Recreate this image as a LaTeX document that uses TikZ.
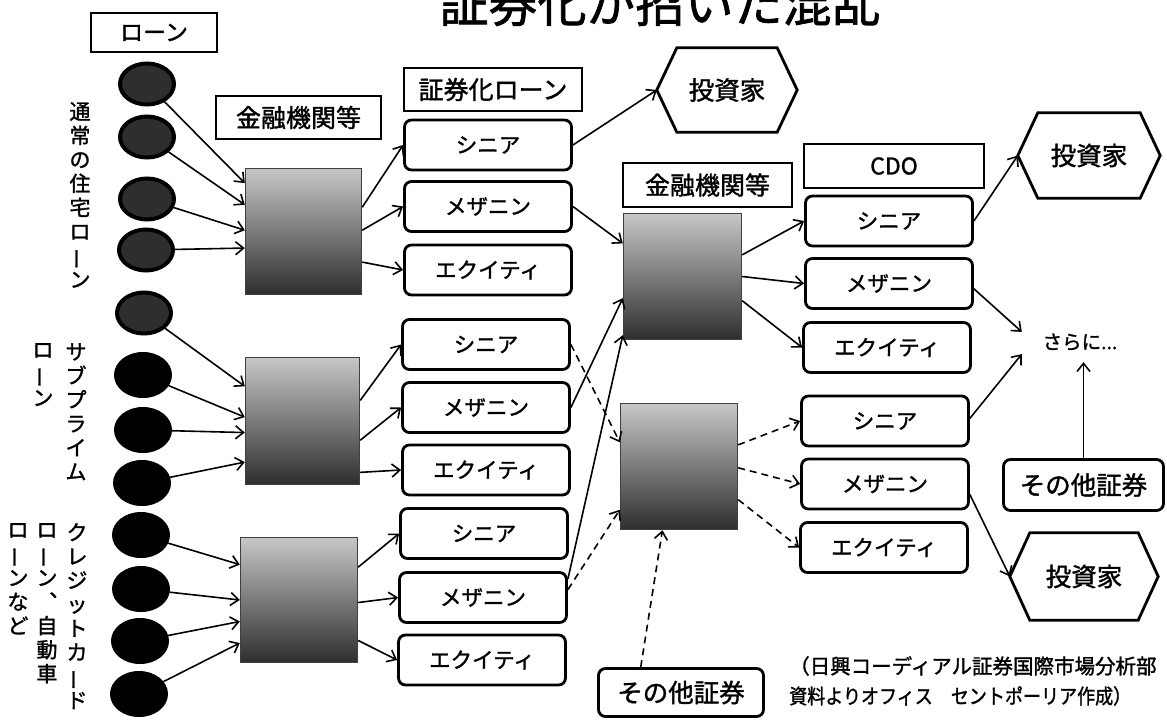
\documentclass[tikz,border=0pt]{standalone}
\usepackage{fontspec}
\setmainfont[FakeBold=1.4]{Noto Sans CJK JP}
\usepackage{graphicx}
\usetikzlibrary{arrows.meta,shapes.geometric,calc}
\newcommand{\vchoon}{\rotatebox[origin=c]{90}{ー}}
\begin{document}
\begin{tikzpicture}[x=1pt,y=-1pt,
 lbl/.style={draw, line width=1.8pt, inner sep=0pt, font=\fontsize{25}{27}\selectfont},
 tr/.style={draw, rounded corners=7pt, line width=2.8pt, inner sep=0pt, minimum width=167pt, minimum height=50pt, font=\fontsize{21.5}{24}\selectfont},
 bank/.style={draw=black!75, line width=1.4pt, top color=black!22, bottom color=black!82, inner sep=0pt},
 ovA/.style={ellipse, draw=black, line width=4pt, fill=black!82, minimum width=54pt, minimum height=41pt, inner sep=0pt},
 ovB/.style={ellipse, draw=black, line width=1pt, fill=black, minimum width=57pt, minimum height=45pt, inner sep=0pt},
 hexn/.style={inner sep=0pt, font=\fontsize{25.5}{27}\selectfont},
 hexline/.style={line width=2.8pt, line join=miter},
 vlab/.style={align=center, inner sep=0pt, font=\fontsize{21}{24}\selectfont},
 arr/.style={line width=1.6pt, -{Straight Barb[length=8pt,width=13pt]}},
 darr/.style={arr, dash pattern=on 7pt off 5pt},
]
\fill[white] (0,0) rectangle (1167,720);
\useasboundingbox (0,0) rectangle (1167,720);

% title
\node[inner sep=0pt, anchor=base, font=\fontsize{49}{54}\selectfont] (title) at (660,22) {証券化が招いた混乱};

% header labels
\node[lbl, minimum width=126, minimum height=39, font=\fontsize{23}{25}\selectfont] (loan) at (154,32.5) {ローン};
\node[lbl, minimum width=165, minimum height=43] (fi1) at (298.5,117.5) {金融機関等};
\node[lbl, minimum width=178, minimum height=43] (sec) at (493,89.5) {証券化ローン};
\node[lbl, minimum width=169, minimum height=44] (fi2) at (707.5,185) {金融機関等};
\node[lbl, minimum width=180, minimum height=44, font=\fontsize{23}{25}\selectfont] (cdo) at (894,166) {CDO};

% loans (ovals)
\node[ovA] (o1) at (147,84) {};
\node[ovA] (o2) at (147,137) {};
\node[ovA] (o3) at (147,199) {};
\node[ovA] (o4) at (146,250) {};
\node[ovA] (o5) at (144,313) {};
\node[ovB] (o6) at (143,375) {};
\node[ovB] (o7) at (143,430) {};
\node[ovB] (o8) at (142,483) {};
\node[ovB] (o9) at (141,535) {};
\node[ovB] (o10) at (141,589) {};
\node[ovB] (o11) at (140,641) {};
\node[ovB] (o12) at (139,694) {};

% vertical labels
\node[vlab, anchor=north] (v1) at (80,102) {通\\常\\の\\住\\宅\\ロ\\\vchoon\\ン};
\node[vlab, anchor=north] (v2a) at (76,343) {サ\\ブ\\プ\\ラ\\イ\\ム};
\node[vlab, anchor=north] (v2b) at (43,343) {ロ\\\vchoon\\ン};
\node[vlab, anchor=north] (v3a) at (77,523) {ク\\レ\\ジ\\ッ\\ト\\カ\\\vchoon\\ド};
\node[vlab, anchor=north] (v3b) at (47,523) {ロ\\\vchoon\\ン\\︑\\自\\動\\車};
\node[vlab, anchor=north] (v3c) at (18,523) {ロ\\\vchoon\\ン\\な\\ど};

% banks
\node[bank, minimum width=116, minimum height=126] (b1) at (303.5,231.5) {};
\node[bank, minimum width=114, minimum height=127] (b2) at (302.5,421) {};
\node[bank, minimum width=117, minimum height=125] (b3) at (299,600) {};
\node[bank, minimum width=118, minimum height=126] (b4) at (682.5,276.5) {};
\node[bank, minimum width=117, minimum height=126] (b5) at (679,466.5) {};

% securitised loan tranches
\node[tr] (s1) at (488,145) {シニア};
\node[tr] (m1) at (488,206.5) {メザニン};
\node[tr] (e1) at (488,270) {エクイティ};
\node[tr] (s2) at (486,344.5) {シニア};
\node[tr] (m2) at (486,407.5) {メザニン};
\node[tr] (e2) at (486,470) {エクイティ};
\node[tr] (s3) at (484,533.5) {シニア};
\node[tr] (m3) at (483,597.5) {メザニン};
\node[tr] (e3) at (482,660) {エクイティ};

% CDO tranches
\node[tr] (cs1) at (889,221) {シニア};
\node[tr] (cm1) at (889,283.5) {メザニン};
\node[tr] (ce1) at (887,347.5) {エクイティ};
\node[tr] (cs2) at (885,421) {シニア};
\node[tr] (cm2) at (885,484) {メザニン};
\node[tr] (ce2) at (884,547.5) {エクイティ};

% investors
\node[hexn, minimum width=140, minimum height=84] (h1) at (727,90) {投資家};
\node[hexn, minimum width=142, minimum height=85] (h2) at (1089,155.5) {投資家};
\node[hexn, minimum width=148, minimum height=87] (h3) at (1084,576.5) {投資家};
\foreach \h in {h1,h2,h3}
  \draw[hexline] (\h.west) -- ($(\h.north west)+(20,0)$) -- ($(\h.north east)+(-20,0)$) -- (\h.east) -- ($(\h.south east)+(-20,0)$) -- ($(\h.south west)+(20,0)$) -- cycle;

% other securities, further
\node[tr, minimum width=160, minimum height=51, font=\fontsize{25.5}{27}\selectfont] (oth1) at (1083.5,485) {その他証券};
\node[tr, minimum width=165, minimum height=48, font=\fontsize{25.5}{27}\selectfont] (oth2) at (681,692.5) {その他証券};
\node[inner sep=0pt, minimum width=116, minimum height=40, font=\fontsize{19.5}{22}\selectfont] (sar) at (1080,342) {さらに...};

% source
\node[anchor=north west, align=left, inner sep=0pt, font=\fontsize{20.5}{30}\selectfont] (src) at (789,656) {（日興コーディアル証券国際市場分析部\\\scalebox{0.88}[1]{資料よりオフィス　セントポーリア作成）}};

% loans -> banks
\draw[arr] (o1) -- ($(b1.north west)!0.12!(b1.south west)$);
\draw[arr] (o2) -- ($(b1.north west)!0.29!(b1.south west)$);
\draw[arr] (o3) -- ($(b1.north west)!0.49!(b1.south west)$);
\draw[arr] (o4) -- ($(b1.north west)!0.63!(b1.south west)$);
\draw[arr] (o5) -- ($(b2.north west)!0.23!(b2.south west)$);
\draw[arr] (o6) -- ($(b2.north west)!0.47!(b2.south west)$);
\draw[arr] (o7) -- ($(b2.north west)!0.59!(b2.south west)$);
\draw[arr] (o8) -- ($(b2.north west)!0.82!(b2.south west)$);
\draw[arr] (o9) -- ($(b3.north west)!0.22!(b3.south west)$);
\draw[arr] (o10) -- ($(b3.north west)!0.5!(b3.south west)$);
\draw[arr] (o11) -- ($(b3.north west)!0.67!(b3.south west)$);
\draw[arr] (o12) -- ($(b3.north west)!0.84!(b3.south west)$);

% banks -> tranches
\draw[arr] ($(b1.north east)!0.31!(b1.south east)$) -- (s1.west);
\draw[arr] ($(b1.north east)!0.49!(b1.south east)$) -- (m1.west);
\draw[arr] ($(b1.north east)!0.74!(b1.south east)$) -- (e1.west);
\draw[arr] ($(b2.north east)!0.34!(b2.south east)$) -- (s2.west);
\draw[arr] ($(b2.north east)!0.65!(b2.south east)$) -- (m2.west);
\draw[arr] ($(b2.north east)!0.90!(b2.south east)$) -- (e2.west);
\draw[arr] ($(b3.north east)!0.24!(b3.south east)$) -- (s3.west);
\draw[arr] ($(b3.north east)!0.52!(b3.south east)$) -- (m3.west);
\draw[arr] ($(b3.north east)!0.82!(b3.south east)$) -- (e3.west);

% middle
\draw[arr] (s1.east) -- (h1.west);
\draw[arr] (m1.east) -- ($(b4.north west)!0.24!(b4.south west)$);
\draw[arr] (m2.east) -- ($(b4.north west)!0.67!(b4.south west)$);
\draw[arr] ($(m3.north east)!0.15!(m3.south east)$) -- ($(b4.north west)!0.96!(b4.south west)$);
\draw[darr] (s2.east) -- ($(b5.north west)!0.31!(b5.south west)$);
\draw[darr] ($(m3.north east)!0.35!(m3.south east)$) -- ($(b5.north west)!0.84!(b5.south west)$);
\draw[darr] ($(oth2.north west)!0.26!(oth2.north east)$) -- ($(b5.south west)!0.36!(b5.south east)$);

% CDO banks -> CDO tranches
\draw[arr] ($(b4.north east)!0.33!(b4.south east)$) -- (cs1.west);
\draw[arr] ($(b4.north east)!0.50!(b4.south east)$) -- (cm1.west);
\draw[arr] ($(b4.north east)!0.69!(b4.south east)$) -- (ce1.west);
\draw[darr] ($(b5.north east)!0.33!(b5.south east)$) -- (cs2.west);
\draw[darr] ($(b5.north east)!0.51!(b5.south east)$) -- (cm2.west);
\draw[darr] ($(b5.north east)!0.76!(b5.south east)$) -- (ce2.west);

% right side
\draw[arr] (cs1.east) -- (h2.west);
\draw[arr] ($(cm1.north east)!0.6!(cm1.south east)$) -- ($(sar.north west)!0.25!(sar.south west)$);
\draw[arr] ($(cs2.north east)!0.45!(cs2.south east)$) -- ($(sar.north west)!0.8!(sar.south west)$);
\draw[arr] ($(cm2.north east)!0.7!(cm2.south east)$) -- (h3.west);
\draw[arr] (oth1.north) -- (oth1.north |- sar.south);
\end{tikzpicture}
\end{document}
